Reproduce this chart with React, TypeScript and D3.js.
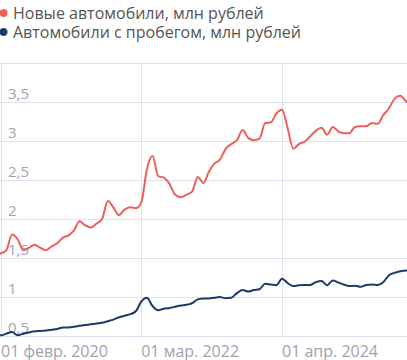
import React from "react";
import * as d3 from "d3";

// monthly series, Jan 2020 .. Mar 2026
const firstMonth = new Date(2020, 0, 1);

const newCars = [
  1.55, 1.56, 1.6, 1.8, 1.74, 1.6, 1.63, 1.67, 1.63, 1.6, 1.65, 1.69, 1.76,
  1.79, 1.85, 1.97, 1.92, 1.89, 1.94, 2.0, 2.23, 2.15, 2.05, 2.12, 2.15, 2.14,
  2.21, 2.64, 2.81, 2.55, 2.53, 2.45, 2.31, 2.28, 2.31, 2.35, 2.54, 2.46, 2.6,
  2.71, 2.76, 2.9, 2.96, 3.01, 3.14, 3.04, 3.01, 3.03, 3.23, 3.24, 3.35, 3.4,
  3.17, 2.9, 2.96, 2.99, 3.06, 3.13, 3.17, 3.08, 3.18, 3.12, 3.1, 3.1, 3.18,
  3.19, 3.19, 3.23, 3.22, 3.33, 3.42, 3.54, 3.58, 3.51, 3.45,
];

const usedCars = [
  0.51, 0.51, 0.53, 0.55, 0.51, 0.53, 0.545, 0.56, 0.565, 0.57, 0.58, 0.59,
  0.61, 0.61, 0.62, 0.63, 0.64, 0.65, 0.66, 0.67, 0.69, 0.71, 0.74, 0.76, 0.78,
  0.82, 0.94, 0.99, 0.885, 0.83, 0.85, 0.86, 0.875, 0.89, 0.9, 0.92, 0.97,
  0.98, 0.98, 0.99, 1.0, 0.985, 0.99, 1.05, 1.09, 1.07, 1.09, 1.1, 1.17, 1.16,
  1.15, 1.235, 1.18, 1.14, 1.15, 1.155, 1.155, 1.19, 1.205, 1.15, 1.21, 1.185,
  1.16, 1.14, 1.145, 1.13, 1.155, 1.16, 1.155, 1.19, 1.28, 1.31, 1.33, 1.34,
  1.34,
];

const yTicks = [0.5, 1, 1.5, 2, 2.5, 3, 3.5, 4];
const xTicks = [new Date(2020, 1, 1), new Date(2022, 2, 1), new Date(2024, 3, 1)];
const xTickLabels = ["01 февр. 2020", "01 мар. 2022", "01 апр. 2024"];

const series = [
  { name: "Новые автомобили, млн рублей", values: newCars, color: "#ec5f5a" },
  { name: "Автомобили с пробегом, млн рублей", values: usedCars, color: "#1d3a6b" },
];

const width = 407;
const height = 360;
const plotTop = 63;
const plotBottom = 336;

export default function App() {
  const months = newCars.map((_, i) => d3.timeMonth.offset(firstMonth, i));

  const x = d3
    .scaleTime()
    .domain([xTicks[0], xTicks[2]])
    .range([1, 282]);

  const y = d3.scaleLinear().domain([0.5, 4]).range([plotBottom, plotTop]);

  const line = d3
    .line<number>()
    .x((_, i) => x(months[i]))
    .y((d) => y(d))
    .curve(d3.curveMonotoneX);

  const font = "'Open Sans', sans-serif";

  return (
    <svg
      width={width}
      height={height}
      style={{ position: "absolute", left: 0, top: 0, fontFamily: font }}
    >
      {/* grid */}
      {yTicks.map((t) => (
        <line
          key={"gy" + t}
          x1={0}
          x2={width}
          y1={Math.round(y(t)) + 0.5}
          y2={Math.round(y(t)) + 0.5}
          stroke="#dde2ef"
          strokeWidth={1}
        />
      ))}
      {xTicks.map((t, i) => (
        <line
          key={"gx" + i}
          x1={Math.round(x(t)) + 0.5}
          x2={Math.round(x(t)) + 0.5}
          y1={plotTop}
          y2={plotBottom}
          stroke="#dde2ef"
          strokeWidth={1}
        />
      ))}

      {/* y labels */}
      {yTicks
        .filter((t) => t < 4)
        .map((t) => (
          <text
            key={"ly" + t}
            x={8}
            y={y(t) - 3}
            fontSize={15}
            fill="#9ea3b0"
          >
            {String(t).replace(".", ",")}
          </text>
        ))}

      {/* x labels */}
      {xTicks.map((t, i) => (
        <text key={"lx" + i} x={x(t)} y={357} fontSize={16} fill="#9ea3b0">
          {xTickLabels[i]}
        </text>
      ))}

      {/* lines */}
      {series.map((s) => (
        <path
          key={s.name}
          d={line(s.values) || ""}
          fill="none"
          stroke={s.color}
          strokeWidth={2}
          strokeLinejoin="round"
        />
      ))}

      {/* legend */}
      {series.map((s, i) => (
        <g key={"lg" + i} transform={`translate(0,${13 + i * 19})`}>
          <circle cx={3.5} cy={0} r={4} fill={s.color} />
          <text x={13} y={5.5} fontSize={16} fill="#555">
            {s.name}
          </text>
        </g>
      ))}
    </svg>
  );
}
